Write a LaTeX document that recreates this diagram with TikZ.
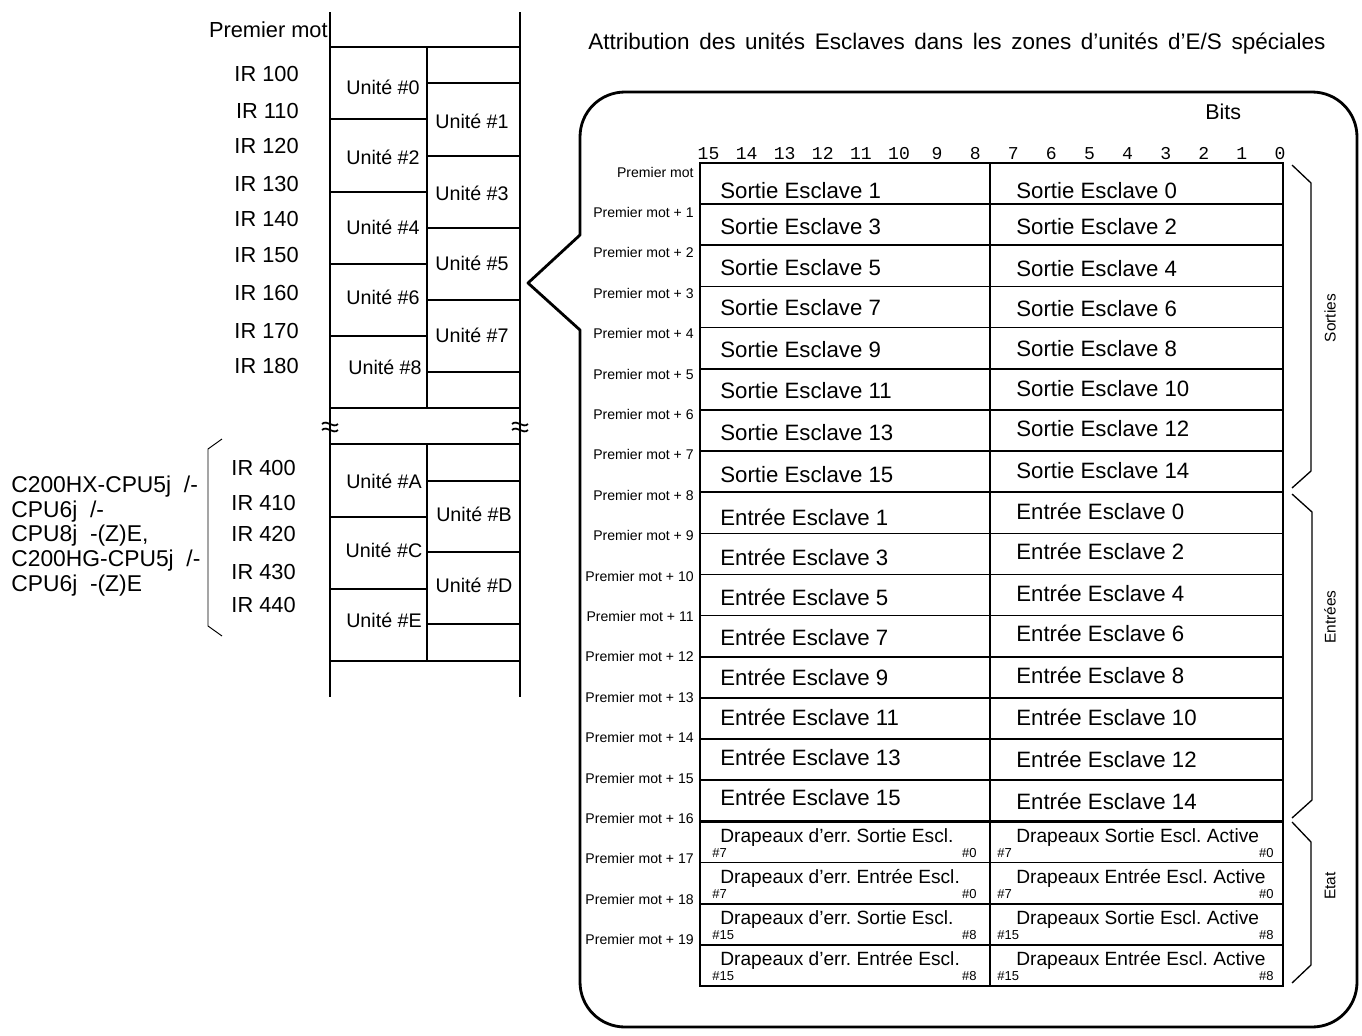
\documentclass[tikz,border=0pt]{standalone}
\usepackage{fontspec}
\setmainfont{Liberation Sans}
\newfontfamily\bitfont{Liberation Mono}
\usepackage{tikz}
\frenchspacing
\tikzset{
    map_rail/.style={
        line width=1.5pt
    },
    map_mid/.style={
        line width=1.3pt
    },
    map_rule/.style={
        line width=0.95pt
    },
    break_line/.style={
        line width=1pt
    },
    map_label/.style={
        font=\fontsize{12.4}{14}\selectfont,
        inner sep=0pt,
        anchor=east
    },
    unit_label/.style={
        font=\fontsize{11.2}{13}\selectfont,
        inner sep=0pt
    },
    cpu_label/.style={
        font=\fontsize{13}{14}\selectfont,
        align=left,
        inner sep=0pt,
        anchor=west
    },
    brace_thin/.style={
        line width=0.55pt
    },
    title_label/.style={
        font={\fontsize{12.8}{15}\selectfont\spaceskip=5.5pt\relax},
        inner sep=0pt,
        anchor=base west
    },
    callout_line/.style={
        line width=1.6pt,
        line join=round
    },
    bits_label/.style={
        font=\fontsize{12.2}{14}\selectfont,
        inner sep=0pt,
        anchor=base west
    },
    bit_num/.style={
        font=\bitfont\fontsize{10.3}{12}\selectfont,
        inner sep=0pt,
        anchor=base
    },
    frame_rule/.style={
        line width=1.4pt
    },
    cell_rule/.style={
        line width=0.95pt
    },
    group_rule/.style={
        line width=1.3pt
    },
    word_label/.style={
        font=\fontsize{8}{9}\selectfont,
        inner sep=0pt,
        anchor=east
    },
    slave_text/.style={
        font=\fontsize{12.65}{14}\selectfont,
        inner sep=0pt,
        anchor=west
    },
    flag_text/.style={
        font=\fontsize{10.9}{12}\selectfont,
        inner sep=0pt,
        anchor=base west
    },
    flag_bit/.style={
        font=\fontsize{7.4}{8}\selectfont,
        inner sep=0pt
    },
    brace_line/.style={
        line width=0.75pt
    },
    side_label/.style={
        font=\fontsize{8.8}{10}\selectfont,
        inner sep=0pt,
        rotate=90
    }
}

\begin{document}
\begin{tikzpicture}[x=0.02cm, y=-0.02cm]
    \useasboundingbox (0,0) rectangle (1362,1035);

    % memory map
    \draw[map_rail] (330,12) -- (330,697);
    \draw[map_rail] (520,12) -- (520,697);
    \draw[map_mid] (427,47) -- (427,408);
    \draw[map_mid] (427,444) -- (427,661);
    \foreach \y in {47,408,444,661}
        \draw[map_rule] (330,\y) -- (520,\y);
    \foreach \y in {119,192,264,336,517,589}
        \draw[map_rule] (330,\y) -- (427,\y);
    \foreach \y in {83,156,228,300,372,481,552,624}
        \draw[map_rule] (427,\y) -- (520,\y);
    \foreach \x in {330,520} {
        \draw[break_line] ({\x-8},424) .. controls ({\x-3},419) and ({\x+3},429) .. ({\x+8},424);
        \draw[break_line] ({\x-8},430) .. controls ({\x-3},425) and ({\x+3},435) .. ({\x+8},430);
    }

    \node[map_label, anchor=base east] (first_word) at (328,37) {Premier mot};
    \foreach \ir/\y in {100/74, 110/111, 120/146, 130/184, 140/219, 150/255, 160/293, 170/331, 180/366}
        \node[map_label] (ir\ir) at (299,\y) {IR \ir};
    \foreach \ir/\y in {400/468, 410/503, 420/534, 430/572, 440/605}
        \node[map_label] (ir\ir) at (296,\y) {IR \ir};
    \foreach \name/\x/\y in {0/383/87, 1/472/121, 2/383/157, 3/472/193, 4/383/227, 5/472/263, 6/383/297, 7/472/335, 8/385/367, A/384/481, B/474/514, C/384/550, D/474/585, E/384/620}
        \node[unit_label] (unit\name) at (\x,\y) {Unité \#\name};

    \node[cpu_label] (cpu_models) at (11,536)
        {C200HX-CPU5j~~/-\\CPU6j~~/-\\CPU8j~~-(Z)E,\\C200HG-CPU5j~~/-\\CPU6j~~-(Z)E};
    \draw[brace_thin] (222,439) -- (208,449) -- (208,626) -- (222,636);

    % callout
    \node[title_label] (title) at (588,49)
        {Attribution des unités Esclaves dans les zones d’unités d’E/S spéciales};
    \draw[callout_line] (580,235) -- (528,283) -- (580,330) -- (580,982)
        .. controls (580,1007) and (600,1027) .. (625,1027) -- (1312,1027)
        .. controls (1337,1027) and (1357,1007) .. (1357,982) -- (1357,137)
        .. controls (1357,112) and (1337,92) .. (1312,92) -- (625,92)
        .. controls (600,92) and (580,112) .. (580,137) -- cycle;

    \node[bits_label] (bits_title) at (1205,119) {Bits};
    \foreach \b in {0,...,15}
        \node[bit_num] (bit\b) at ({1280-38.1*\b},159) {\b};

    % word table
    \draw[frame_rule] (700,163) rectangle (1283,986);
    \draw[cell_rule] (990,163) -- (990,986);
    \foreach \k in {1,...,19}
        \draw[cell_rule] (700,{163+41.15*\k}) -- (1283,{163+41.15*\k});
    \foreach \k in {8,16}
        \draw[group_rule] (700,{163+41.15*\k}) -- (1283,{163+41.15*\k});

    \node[word_label] (word0) at (694,172) {Premier mot};
    \foreach \k in {1,...,19}
        \node[word_label] (word\k) at (694,{172+40.4*\k}) {Premier mot + \k};

    \foreach \n/\yl/\yr [count=\k from 0] in {1/191/191, 3/227/227, 5/268/269, 7/308/309, 9/350/349, 11/391/389, 13/433/429, 15/475/471} {
        \pgfmathtruncatemacro\m{\n-1}
        \node[slave_text] (outL\k) at (720,\yl) {Sortie Esclave \n};
        \node[slave_text] (outR\k) at (1016,\yr) {Sortie Esclave \m};
    }
    \foreach \n/\yl/\yr [count=\k from 0] in {1/517/511, 3/557/551, 5/597/593, 7/637/633, 9/677/675, 11/717/717, 13/757/759, 15/797/801} {
        \pgfmathtruncatemacro\m{\n-1}
        \node[slave_text] (inL\k) at (720,\yl) {Entrée Esclave \n};
        \node[slave_text] (inR\k) at (1016,\yr) {Entrée Esclave \m};
    }

    \foreach \what/\hi/\lo [count=\k from 0] in {Sortie/7/0, Entrée/7/0, Sortie/15/8, Entrée/15/8} {
        \pgfmathsetmacro\rowtop{821.6+41.15*\k}
        \node[flag_text] (errflag\k) at (720,{\rowtop+20.5}) {Drapeaux d’err. \what\ Escl.};
        \node[flag_text] (actflag\k) at (1016,{\rowtop+20.5}) {Drapeaux \what\ Escl. Active};
        \node[flag_bit, anchor=base west] (errhi\k) at (712,{\rowtop+35.5}) {\#\hi};
        \node[flag_bit, anchor=base east] (errlo\k) at (977,{\rowtop+35.5}) {\#\lo};
        \node[flag_bit, anchor=base west] (acthi\k) at (997,{\rowtop+35.5}) {\#\hi};
        \node[flag_bit, anchor=base east] (actlo\k) at (1274,{\rowtop+35.5}) {\#\lo};
    }

    % groups
    \draw[brace_line] (1292,165) -- (1311,183) -- (1311,471) -- (1292,488);
    \draw[brace_line] (1292,494) -- (1312,512) -- (1312,800) -- (1292,818);
    \draw[brace_line] (1292,822) -- (1311,842) -- (1311,965) -- (1292,983);
    \node[side_label] (out_group) at (1330,318) {Sorties};
    \node[side_label] (in_group) at (1330,617) {Entrées};
    \node[side_label] (state_group) at (1330,886) {Etat};
\end{tikzpicture}
\end{document}
